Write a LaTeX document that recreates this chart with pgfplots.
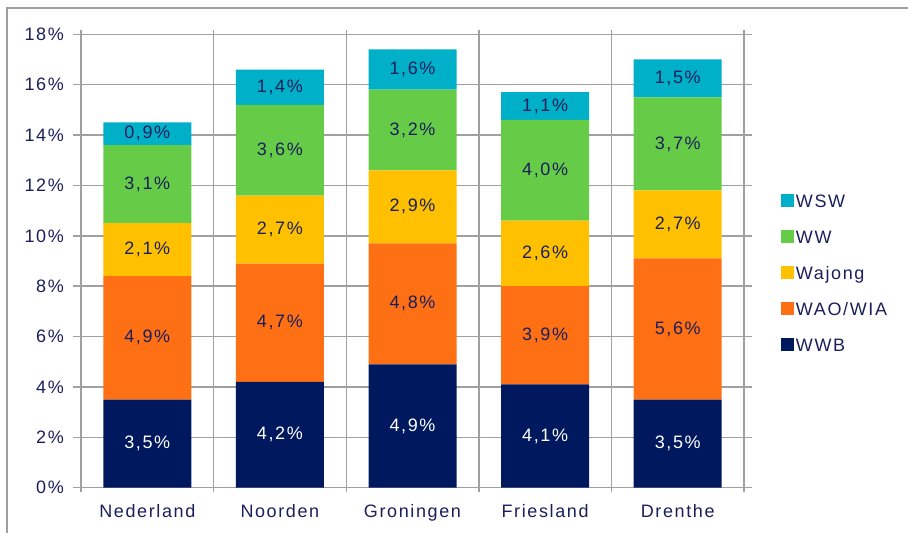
\documentclass[border=0pt]{standalone}
\usepackage{pgfplots}
\pgfplotsset{compat=1.18}
\usepackage{fontspec}
\setmainfont{Liberation Sans}[LetterSpace=9]
\definecolor{cWSW}{HTML}{00AFC8}
\definecolor{cWW}{HTML}{66CC47}
\definecolor{cWaj}{HTML}{FFC000}
\definecolor{cWAO}{HTML}{FF6F14}
\definecolor{cWWB}{HTML}{00195E}
\definecolor{navy}{HTML}{1A1F5C}
\definecolor{gridc}{HTML}{A0A0A0}
\newcommand{\fs}{\fontsize{18pt}{21pt}\selectfont}
\pgfplotsset{
  common/.style={
    scale only axis, width=663pt, height=453.4pt,
    at={(81pt,45.3pt)}, anchor=south west,
    xmin=-0.5, xmax=4.5, ymin=0, ymax=18,
  },
  sq/.style={legend image code/.code={\fill[##1] (0pt,-6pt) rectangle (13pt,7pt);}},
  lab/.style={only marks, mark=none, point meta=explicit,
    nodes near coords={\pgfmathprintnumber[fixed,fixed zerofill,precision=1,use comma,assume math mode=true]{\pgfplotspointmeta}\%},
    every node near coord/.append style={anchor=center, font=\fs, text=#1, inner sep=0pt}},
}
\begin{document}
\begin{tikzpicture}
\useasboundingbox (0,0) rectangle (908pt,533pt);
\draw[gridc, line width=1.2pt] (7pt,-5pt) -- (7pt,525pt) -- (915pt,525pt);
\begin{axis}[common,
  ybar stacked, bar width=88pt,
  axis line style={gridc, line width=1.4pt},
  tick align=outside,
  ytick={0,2,...,18},
  yticklabels={0\%,2\%,4\%,6\%,8\%,10\%,12\%,14\%,16\%,18\%},
  xtick={0,1,2,3,4},
  xticklabels={Nederland,Noorden,Groningen,Friesland,Drenthe},
  minor xtick={-0.5,0.5,1.5,2.5,3.5,4.5},
  ymajorgrids, xminorgrids,
  major grid style={gridc, line width=1.4pt},
  minor grid style={gridc, line width=1.4pt},
  major tick length=8pt, minor tick length=4pt,
  tick style={draw=gridc, line width=1.4pt},
  major x tick style={draw=none},
  tick label style={font=\fs, text=navy},
  yticklabel style={inner sep=0pt, xshift=-9pt},
  xticklabel style={inner sep=0pt, text height=13pt, text depth=0pt, anchor=north, yshift=-9pt},
  reverse legend,
  legend cell align=left,
  legend style={draw=none, fill=none, inner sep=0pt, outer sep=0pt,
    at={(rel axis cs:1.0558,0.6478)}, anchor=north west,
    row sep=22.6pt, column sep=0pt,
    nodes={inner xsep=2pt, inner ysep=0pt, text height=13pt, text depth=0pt, font=\fs, text=navy}},
]
\addplot[fill=cWWB, draw=none, sq] coordinates {(0,3.5) (1,4.2) (2,4.9) (3,4.1) (4,3.5)};
\addplot[fill=cWAO, draw=none, sq] coordinates {(0,4.9) (1,4.7) (2,4.8) (3,3.9) (4,5.6)};
\addplot[fill=cWaj, draw=none, sq] coordinates {(0,2.1) (1,2.7) (2,2.9) (3,2.6) (4,2.7)};
\addplot[fill=cWW, draw=none, sq] coordinates {(0,3.1) (1,3.6) (2,3.2) (3,4.0) (4,3.7)};
\addplot[fill=cWSW, draw=none, sq] coordinates {(0,0.9) (1,1.4) (2,1.6) (3,1.1) (4,1.5)};
\legend{WWB, WAO/WIA, Wajong, WW, WSW}
\end{axis}
\begin{axis}[common, hide axis]
\addplot[lab=white] table[meta=v] {
x y v
0 1.75 3.5
1 2.10 4.2
2 2.45 4.9
3 2.05 4.1
4 1.75 3.5
};
\addplot[lab=navy] table[meta=v] {
x y v
0 5.95 4.9
1 6.55 4.7
2 7.30 4.8
3 6.05 3.9
4 6.30 5.6
0 9.45 2.1
1 10.25 2.7
2 11.15 2.9
3 9.30 2.6
4 10.45 2.7
0 12.05 3.1
1 13.40 3.6
2 14.20 3.2
3 12.60 4.0
4 13.65 3.7
0 14.05 0.9
1 15.90 1.4
2 16.60 1.6
3 15.15 1.1
4 16.25 1.5
};
\end{axis}
\end{tikzpicture}
\end{document}
